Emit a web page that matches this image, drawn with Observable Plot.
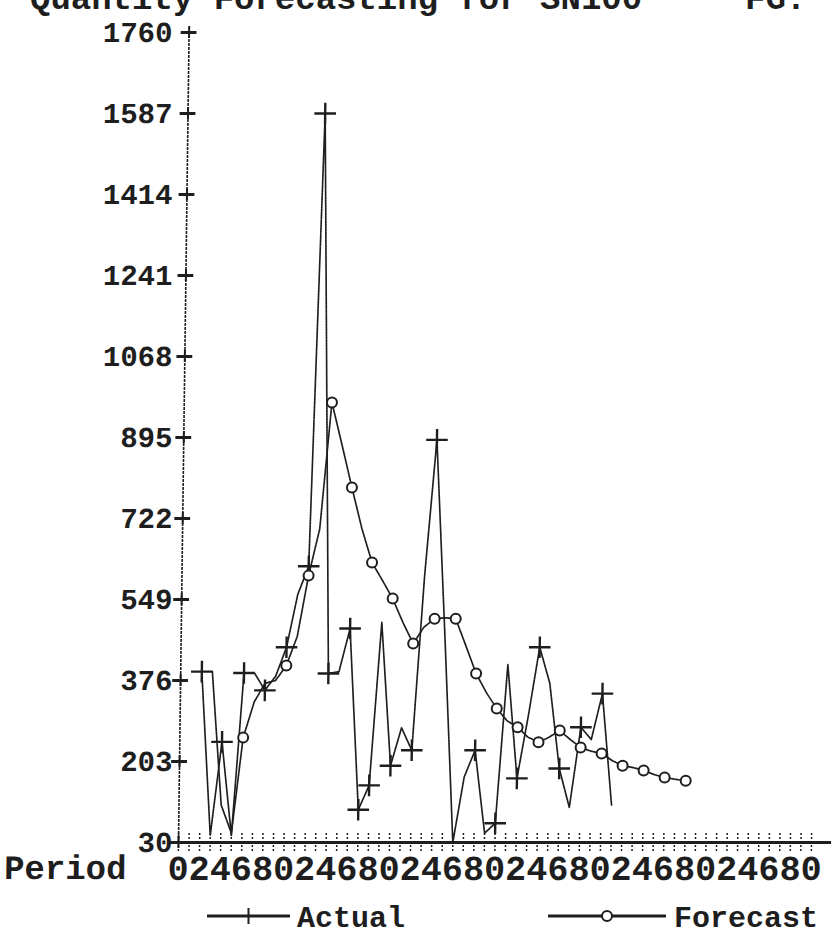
<!DOCTYPE html>
<html><head><meta charset="utf-8">
<script src="https://cdn.jsdelivr.net/npm/d3@7"></script>
<script src="https://cdn.jsdelivr.net/npm/@observablehq/plot@0.6"></script>
<style>
html,body{margin:0;padding:0;background:#fff;}
body{width:831px;height:948px;overflow:hidden;position:relative;font-family:"Liberation Mono","DejaVu Sans Mono",monospace;color:#1e1e1e;}
#title{position:absolute;left:0;top:-17px;width:831px;height:40px;font-size:34px;line-height:34px;font-weight:bold;white-space:pre;}
#chart{position:absolute;left:0;top:0;transform:skewX(-0.75deg);transform-origin:0 842px;}
#legend{position:absolute;left:0;top:896px;}
</style></head><body>
<div id="chart"></div>
<div id="title"></div>
<div id="legend"></div>
<script>
// ---- data ----
const titleText = "Quantity Forecasting for SN100";
const titleRight = "FG.";
const xLabelName = "Period";
const seriesNames = ["Actual", "Forecast"];

const actualPeriods = [2,3,4,5,6,7,8,9,10,11,12,13,14,15,16,17,18,19,20,21,22,23,24,25,26,27,28,29,30,31,32,33,34,35,36,37,38,39,40,41];
const actualValues  = [395,45,245,45,392,392,355,385,447,560,620,1587,391,395,487,100,152,500,194,275,227,600,890,470,30,170,227,50,71,410,167,300,447,370,188,105,276,250,348,110];
// periods where the printer shows a "+" marker
const actualMarked = [2,4,6,8,10,12,13,14,16,17,18,20,22,24,28,30,32,34,36,38,40];

const forecastPeriods = [3,4,5,6,7,8,9,10,11,12,13,14,15,16,17,18,19,20,21,22,23,24,25,26,27,28,29,30,31,32,33,34,35,36,37,38,39,40,41,42,43,44,45,46,47,48];
const forecastValues  = [395,110,50,254,330,370,376,408,470,600,700,970,880,788,700,628,590,551,500,455,490,508,510,508,450,391,350,316,290,276,255,244,255,269,250,233,225,220,205,194,190,184,175,169,165,162];
// periods where the printer shows an "o" marker
const forecastMarked = [6,10,12,14,16,18,20,22,24,26,28,30,32,34,36,38,40,42,44,46,48];

const yTicks = [30,203,376,549,722,895,1068,1241,1414,1587,1760];
const xTickPeriods = [0,1,2,3,4,5,6,7,8,9,10,11,12,13,14,15,16,17,18,19,20,21,22,23,24,25,26,27,28,29,30,31,32,33,34,35,36,37,38,39,40,41,42,43,44,45,46,47,48,49,50,51,52,53,54,55,56,57,58,59,60];
const xLabelPeriods = [0,2,4,6,8,10,12,14,16,18,20,22,24,26,28,30,32,34,36,38,40,42,44,46,48,50,52,54,56,58,60];
const xLabelTexts = ["0","2","4","6","8","0","2","4","6","8","0","2","4","6","8","0","2","4","6","8","0","2","4","6","8","0","2","4","6","8","0"];

// ---- tables ----
const actual = actualPeriods.map((p, i) => ({period: p, value: actualValues[i]}));
const forecast = forecastPeriods.map((p, i) => ({period: p, value: forecastValues[i]}));
const actualDots = actual.filter(d => actualMarked.includes(d.period));
const forecastDots = forecast.filter(d => forecastMarked.includes(d.period));
const xLabels = xLabelPeriods.map((p, i) => ({period: p, text: xLabelTexts[i]}));

const ink = "#1e1e1e";
const font = "'Liberation Mono','DejaVu Sans Mono',monospace";
const yMin = 30, yMax = 1760;
const unitPerPx = (yMax - yMin) / 810;
const pxPerPeriod = 633 / 60;
const skew = Math.tan(0.75 * Math.PI / 180);
// the scanned page leans, but its printed tick labels do not: cancel the lean for them
const labelX = v => -((v - yMin) / unitPerPx) * skew / pxPerPeriod;

const chart = Plot.plot({
  width: 831,
  height: 900,
  marginLeft: 178,
  marginRight: 20,
  marginTop: 32,
  marginBottom: 58,
  x: {domain: [0, 60], axis: null},
  y: {domain: [yMin, yMax], axis: null},
  style: {fontFamily: font, background: "transparent", color: ink, overflow: "visible"},
  marks: [
    // y axis
    Plot.ruleX([0], {y1: yMin, y2: yMax, stroke: ink, strokeWidth: 1.6, strokeDasharray: "3,1"}),
    Plot.ruleY(yTicks, {x1: -0.75, x2: 0.75, stroke: ink, strokeWidth: 3}),
    Plot.ruleX(yTicks.map(v => ({v})), {x: 0, y1: d => d.v - 6 * unitPerPx, y2: d => d.v + 6 * unitPerPx, stroke: ink, strokeWidth: 2}),
    Plot.text(yTicks, {x: d => labelX(d), y: d => d, text: d => String(d), textAnchor: "end", dx: -6, fontSize: 29, fontWeight: "bold", fill: ink}),
    // x axis
    Plot.ruleX(xTickPeriods, {y1: yMin - 9 * unitPerPx, y2: yMin + 9 * unitPerPx, stroke: ink, strokeWidth: 1.5, strokeDasharray: "2,2"}),
    Plot.ruleY([yMin], {x1: 0, x2: 62, stroke: ink, strokeWidth: 3}),
    Plot.text(xLabels, {x: "period", y: yMin - 26 * unitPerPx, text: "text", fontSize: 35, fontWeight: "bold", fill: ink}),
    Plot.text([xLabelName], {x: -16.5, y: yMin - 26 * unitPerPx, text: d => d, textAnchor: "start", fontSize: 34, fontWeight: "bold", fill: ink}),
    // series
    Plot.line(actual, {x: "period", y: "value", stroke: ink, strokeWidth: 1.7, strokeDasharray: "1.8,0.9"}),
    Plot.line(forecast, {x: "period", y: "value", stroke: ink, strokeWidth: 1.7, strokeDasharray: "1.8,0.9"}),
    Plot.dot(actualDots, {x: "period", y: "value", symbol: "plus", r: 7, stroke: ink, strokeWidth: 2.4}),
    Plot.dot(forecastDots, {x: "period", y: "value", symbol: "circle", r: 5, stroke: ink, strokeWidth: 2, fill: "white"})
  ]
});
document.getElementById("chart").appendChild(chart);

// title (cut off at the top edge as in the scan)
const t = document.getElementById("title");
t.innerHTML = `<span style="position:absolute;left:30px;">${titleText}</span><span style="position:absolute;left:745px;">${titleRight}</span>`;

// legend
const lg = d3.select("#legend").append("svg").attr("width", 831).attr("height", 52);
const items = [
  {name: seriesNames[0], x1: 207, x2: 290, tx: 297, sym: "plus"},
  {name: seriesNames[1], x1: 548, x2: 666, tx: 674, sym: "circle"}
];
const ly = 20;
items.forEach(it => {
  lg.append("line").attr("x1", it.x1).attr("x2", it.x2).attr("y1", ly).attr("y2", ly).attr("stroke", ink).attr("stroke-width", 3);
  const cx = (it.x1 + it.x2) / 2;
  if (it.sym === "plus") {
    lg.append("line").attr("x1", cx).attr("x2", cx).attr("y1", ly - 8).attr("y2", ly + 8).attr("stroke", ink).attr("stroke-width", 2);
  } else {
    lg.append("circle").attr("cx", cx).attr("cy", ly).attr("r", 5).attr("fill", "white").attr("stroke", ink).attr("stroke-width", 2);
  }
  lg.append("text").attr("x", it.tx).attr("y", ly + 11).attr("font-family", font).attr("font-size", 30).attr("font-weight", "bold").attr("fill", ink).text(it.name);
});
</script>
</body></html>
